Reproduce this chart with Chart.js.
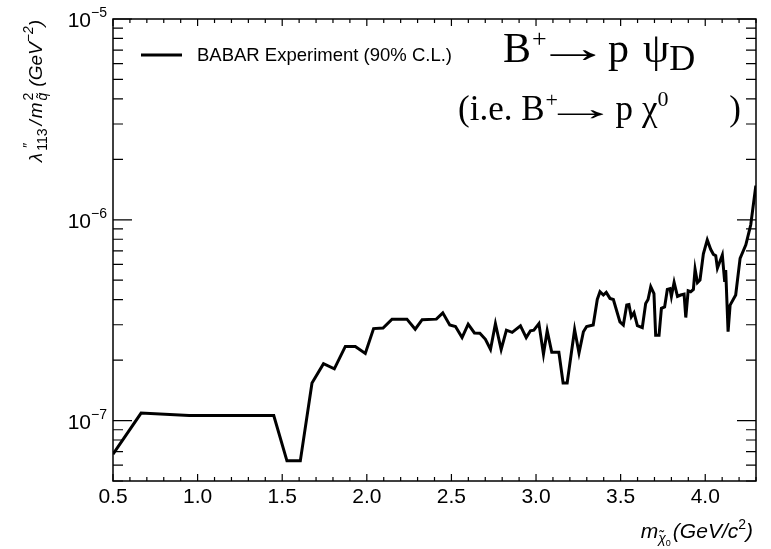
<!DOCTYPE html>
<html>
<head>
<meta charset="utf-8">
<script src="https://cdn.jsdelivr.net/npm/chart.js@4/dist/chart.umd.min.js"></script>
<style>
  html, body { margin: 0; padding: 0; background: #fff; }
  #limitChart { display: block; }
</style>
</head>
<body>
<canvas id="limitChart" width="771" height="549"></canvas>
<script>
// Upper limit on lambda''_113 / m^2 vs dark-fermion mass
const massGeV = [
  0.50, 0.666, 0.95, 1.45, 1.528, 1.607, 1.676, 1.744, 1.808, 1.873,
  1.932, 1.991, 2.040, 2.096, 2.149, 2.237, 2.286, 2.327, 2.411, 2.449,
  2.490, 2.524, 2.563, 2.599, 2.636, 2.668, 2.701, 2.731, 2.760, 2.794,
  2.825, 2.859, 2.908, 2.942, 2.967, 2.987, 3.017, 3.044, 3.066, 3.093,
  3.135, 3.160, 3.184, 3.228, 3.254, 3.280, 3.299, 3.338, 3.362, 3.378,
  3.398, 3.415, 3.437, 3.457, 3.496, 3.516, 3.536, 3.549, 3.563, 3.579,
  3.599, 3.628, 3.648, 3.662, 3.678, 3.697, 3.707, 3.727, 3.741, 3.760,
  3.776, 3.792, 3.800, 3.816, 3.836, 3.855, 3.875, 3.885, 3.899, 3.914,
  3.930, 3.940, 3.954, 3.969, 3.989, 4.012, 4.032, 4.048, 4.062, 4.072,
  4.101, 4.115, 4.121, 4.135, 4.147, 4.180, 4.206, 4.240, 4.269, 4.299
];
const limitValues = [
  6.8e-8, 1.09e-7, 1.06e-7, 1.06e-7, 6.3e-8, 6.3e-8, 1.54e-7, 1.92e-7, 1.81e-7, 2.34e-7,
  2.34e-7, 2.16e-7, 2.87e-7, 2.89e-7, 3.2e-7, 3.2e-7, 2.85e-7, 3.18e-7, 3.2e-7, 3.44e-7,
  2.99e-7, 2.94e-7, 2.59e-7, 3.02e-7, 2.73e-7, 2.72e-7, 2.54e-7, 2.26e-7, 3.04e-7, 2.26e-7,
  2.82e-7, 2.75e-7, 2.96e-7, 2.59e-7, 2.80e-7, 2.82e-7, 3.04e-7, 2.14e-7, 2.80e-7, 2.19e-7,
  2.19e-7, 1.54e-7, 1.54e-7, 2.84e-7, 2.17e-7, 2.77e-7, 2.94e-7, 2.99e-7, 4.01e-7, 4.38e-7,
  4.22e-7, 4.35e-7, 4.06e-7, 4.01e-7, 3.10e-7, 2.99e-7, 3.76e-7, 3.78e-7, 3.29e-7, 3.45e-7,
  2.97e-7, 2.90e-7, 3.83e-7, 4.01e-7, 4.64e-7, 4.29e-7, 2.66e-7, 2.66e-7, 3.62e-7, 3.68e-7,
  4.50e-7, 4.54e-7, 4.15e-7, 4.88e-7, 4.15e-7, 4.22e-7, 4.26e-7, 3.26e-7, 4.43e-7, 4.38e-7,
  4.50e-7, 5.67e-7, 4.86e-7, 5.01e-7, 6.76e-7, 7.94e-7, 7.13e-7, 6.73e-7, 6.63e-7, 5.74e-7,
  6.68e-7, 4.90e-7, 5.62e-7, 2.77e-7, 3.76e-7, 4.22e-7, 6.43e-7, 7.50e-7, 9.44e-7, 1.48e-6
];
const xTickLabels = [0.5, 1.0, 1.5, 2.0, 2.5, 3.0, 3.5, 4.0];
const yDecades = [-7, -6, -5];

const SANS = '"Liberation Sans", Arial, Helvetica, sans-serif';
const SERIF = '"Liberation Serif", "Times New Roman", serif';

function segFont(s) {
  return (s.italic ? 'italic ' : '') + s.size + 'px ' + (s.family || SANS);
}
function segWidth(ctx, s) {
  if (s.w != null) return s.w + (s.gap || 0);
  ctx.font = segFont(s);
  return ctx.measureText(s.t).width * (s.sx || 1) + (s.gap || 0);
}
function richWidth(ctx, segs) {
  let w = 0;
  segs.forEach(s => { if (!s.noAdvance) w += segWidth(ctx, s); });
  return w;
}
function drawRich(ctx, segs, x, y) {
  segs.forEach(s => {
    ctx.font = segFont(s);
    ctx.save();
    ctx.translate(x + (s.dx || 0), y + (s.dy || 0));
    if (s.sx) ctx.scale(s.sx, 1);
    ctx.fillText(s.t, 0, 0);
    ctx.restore();
    if (!s.noAdvance) x += segWidth(ctx, s);
  });
  return x;
}
// arrow glyph stretched so its ink is exactly len pixels long (ROOT's long thin arrow)
function arrowSeg(ctx, size, len, gap) {
  const s = { t: '\u2192', size: size, family: SERIF, gap: gap || 0, w: len };
  ctx.font = segFont(s);
  const m = ctx.measureText(s.t);
  const ink = (m.actualBoundingBoxRight + m.actualBoundingBoxLeft) || m.width;
  s.sx = len / ink;
  s.dx = (m.actualBoundingBoxLeft || 0) * s.sx;
  return s;
}

const rootFrame = {
  id: 'rootFrame',
  afterDraw(chart) {
    const ctx = chart.ctx;
    const a = chart.chartArea;
    const xs = chart.scales.x;
    const ys = chart.scales.y;
    ctx.save();
    ctx.strokeStyle = '#000';
    ctx.fillStyle = '#000';
    ctx.lineWidth = 1.5;
    ctx.strokeRect(a.left, a.top, a.right - a.left, a.bottom - a.top);

    // x ticks, inside, top and bottom
    ctx.lineWidth = 1.2;
    for (let i = 5; i <= 43; i++) {
      const px = xs.getPixelForValue(i / 10);
      const len = i % 5 === 0 ? 7 : 4;
      ctx.beginPath();
      ctx.moveTo(px, a.bottom); ctx.lineTo(px, a.bottom - len);
      ctx.moveTo(px, a.top); ctx.lineTo(px, a.top + len);
      ctx.stroke();
    }
    // y ticks, log decades with minors
    for (let d = -8; d <= -5; d++) {
      for (let m = 1; m <= 9; m++) {
        const v = m * Math.pow(10, d);
        if (v < ys.min * 0.999 || v > ys.max * 1.001) continue;
        const py = ys.getPixelForValue(v);
        const len = m === 1 ? 19 : 10;
        ctx.beginPath();
        ctx.moveTo(a.left, py); ctx.lineTo(a.left + len, py);
        ctx.moveTo(a.right, py); ctx.lineTo(a.right - len, py);
        ctx.stroke();
      }
    }

    // x tick labels
    ctx.textBaseline = 'alphabetic';
    ctx.textAlign = 'center';
    ctx.font = '21px ' + SANS;
    xTickLabels.forEach(v => {
      ctx.fillText(v.toFixed(1), xs.getPixelForValue(v), a.bottom + 22);
    });

    // y tick labels 10^n
    ctx.textAlign = 'left';
    yDecades.forEach(e => {
      const py = ys.getPixelForValue(Math.pow(10, e));
      const segs = [
        { t: '10', size: 21 },
        { t: '\u2212' + Math.abs(e), size: 14, dy: -10 }
      ];
      const w = richWidth(ctx, segs);
      drawRich(ctx, segs, 107 - w, py + 8);
    });

    // y axis title (rotated, aligned to top of axis)
    const yTitle = [
      { t: '\u03bb', size: 19, italic: true, gap: 2 },
      { t: '\u2033', size: 14, dy: -9, noAdvance: true, dx: 3 },
      { t: '113', size: 14, dy: 5, gap: 3 },
      { t: '/', size: 19, italic: true, gap: 2 },
      { t: 'm', size: 19, italic: true, gap: 2 },
      { t: '2', size: 14, dy: -9, noAdvance: true },
      { t: 'q\u0303', size: 14, dy: 5, italic: true, gap: 6 },
      { t: '(GeV', size: 19, italic: true },
      { t: '\u22122', size: 14, dy: -9, italic: true },
      { t: ')', size: 19, italic: true }
    ];
    const yw = richWidth(ctx, yTitle);
    ctx.save();
    ctx.translate(42, a.top + 1);
    ctx.rotate(-Math.PI / 2);
    drawRich(ctx, yTitle, -yw, 0);
    ctx.restore();

    // x axis title (right aligned)
    const xTitle = [
      { t: 'm', size: 21, italic: true },
      { t: '\u03c7\u0303', size: 14, dy: 5, italic: true },
      { t: '0', size: 9, dy: 8, gap: 2 },
      { t: '(GeV/c', size: 21, italic: true },
      { t: '2', size: 14, dy: -9 },
      { t: ')', size: 21, italic: true }
    ];
    const xw = richWidth(ctx, xTitle);
    drawRich(ctx, xTitle, 753 - xw, 538);

    // legend
    ctx.lineWidth = 3;
    ctx.beginPath();
    ctx.moveTo(141, 55); ctx.lineTo(182, 55);
    ctx.stroke();
    ctx.font = '18.5px ' + SANS;
    ctx.textBaseline = 'middle';
    ctx.fillText(chart.data.datasets[0].label, 197, 56);

    // process annotation
    ctx.textBaseline = 'alphabetic';
    drawRich(ctx, [
      { t: 'B', size: 42, family: SERIF },
      { t: '+', size: 26, dy: -15, family: SERIF, noAdvance: true, dx: 1 },
      { t: '', size: 26, gap: 18 },
      arrowSeg(ctx, 42, 47, 12),
      { t: 'p', size: 42, family: SERIF, gap: 14 },
      { t: '\u03c8', size: 42, family: SERIF },
      { t: 'D', size: 36, dy: 8, family: SERIF }
    ], 503, 62);
    drawRich(ctx, [
      { t: '(i.e. B', size: 35, family: SERIF },
      { t: '+', size: 22, dy: -13, family: SERIF, noAdvance: true, dx: 1 },
      { t: '', size: 22, gap: 13 },
      arrowSeg(ctx, 35, 46, 12),
      { t: 'p', size: 35, family: SERIF, gap: 9 },
      { t: '\u03c7', size: 35, family: SERIF },
      { t: '0', size: 22, dy: -14, family: SERIF }
    ], 458, 120);
    ctx.font = '35px ' + SERIF;
    ctx.textAlign = 'right';
    ctx.fillText(')', 741, 120);
    ctx.restore();
  }
};

const ctx = document.getElementById("limitChart").getContext("2d");
new Chart(ctx, {
  type: "line",
  data: {
    datasets: [
      {
        label: "BABAR Experiment (90% C.L.)",
        data: massGeV.map((m, i) => ({ x: m, y: limitValues[i] })),
        borderColor: "#000",
        borderWidth: 3,
        pointRadius: 0,
        tension: 0,
        fill: false,
      },
    ],
  },
  options: {
    responsive: false,
    animation: false,
    devicePixelRatio: 1,
    layout: {
      padding: { left: 113, right: 15, top: 19, bottom: 68 },
    },
    scales: {
      x: { type: "linear", min: 0.5, max: 4.3, display: false },
      y: { type: "logarithmic", min: 5e-8, max: 1e-5, display: false },
    },
    plugins: {
      legend: { display: false },
      tooltip: { enabled: false },
    },
  },
  plugins: [rootFrame],
});
</script>
</body>
</html>
